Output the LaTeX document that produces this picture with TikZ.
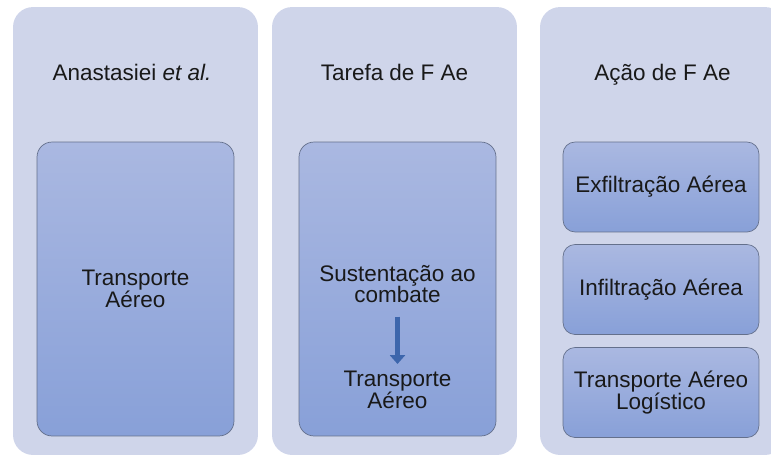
\documentclass[tikz,border=0pt]{standalone}
\usepackage{fontspec}
\setmainfont{Liberation Sans}
\usetikzlibrary{arrows.meta}

\definecolor{colfill}{RGB}{207,213,234}
\definecolor{boxtop}{RGB}{170,184,225}
\definecolor{boxbot}{RGB}{136,160,216}
\definecolor{boxline}{RGB}{100,112,140}
\definecolor{arrowblue}{RGB}{61,102,172}

\begin{document}
\begin{tikzpicture}[x=0.02cm,y=-0.02cm,
  column/.style={fill=colfill,rounded corners=0.4cm,inner sep=0pt,
    minimum width=4.9cm,minimum height=8.96cm},
  txt/.style={font=\fontsize{12.8}{12.3}\selectfont,text=black!90,align=center,inner sep=2pt},
  bigbox/.style={txt,draw=boxline,top color=boxtop,bottom color=boxbot,
    rounded corners=0.3cm,minimum width=3.94cm,minimum height=5.88cm},
  smallbox/.style={txt,draw=boxline,top color=boxtop,bottom color=boxbot,
    rounded corners=0.24cm,minimum width=3.92cm,minimum height=1.8cm},
  flow/.style={draw=arrowblue,line width=2.6pt,
    -{Triangle[width=8.5pt,length=5pt]},shorten <=5.5pt,shorten >=2pt}
]

\useasboundingbox (0,0) rectangle (771,457);
\clip (0,0) rectangle (771,457);

\node[column] (col1) at (135.5,231) {};
\node[column] (col2) at (394.5,231) {};
\node[column] (col3) at (662.5,231) {};

\node[txt,anchor=base] (t1) at (132,80) {Anastasiei \textit{et al.}};
\node[txt,anchor=base] (t2) at (394.5,80) {Tarefa de F Ae};
\node[txt,anchor=base] (t3) at (662.5,80) {Ação de F Ae};

% first column
\node[bigbox] (ta) at (135.5,289) {Transporte\\Aéreo};

% second column
\node[bigbox] (sc) at (397.5,289) {};
\node[txt] (sust) at (397.5,284) {Sustentação ao\\combate};
\node[txt] (transp) at (397.5,390) {Transporte\\Aéreo};
\draw[flow] (sust) -- (transp);

% third column
\node[smallbox] (exf) at (661,187) {Exfiltração Aérea};
\node[smallbox] (inf) at (661,289.5) {Infiltração Aérea};
\node[smallbox] (tal) at (661,392.5) {Transporte Aéreo\\Logístico};

\end{tikzpicture}
\end{document}
